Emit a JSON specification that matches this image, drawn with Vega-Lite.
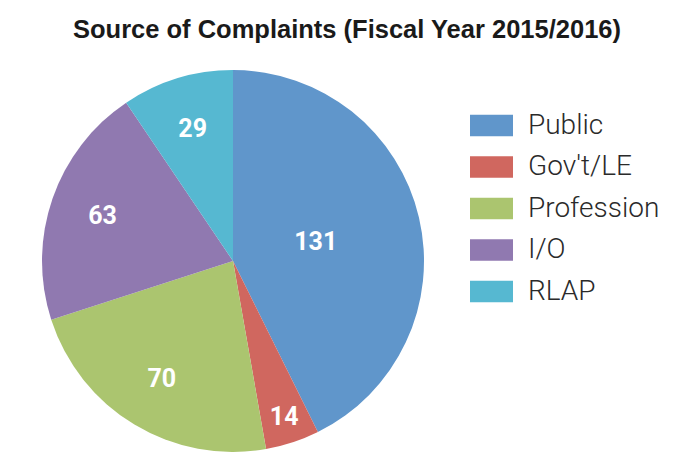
{
  "$schema": "https://vega.github.io/schema/vega-lite/v6.json",
  "autosize": "none",
  "width": 382,
  "height": 382,
  "padding": {"left": 42, "top": 70, "right": 252, "bottom": 23},
  "background": "white",
  "config": {"view": {"stroke": null}},
  "title": {
    "text": "Source of Complaints (Fiscal Year 2015/2016)",
    "font": "Liberation Sans",
    "fontSize": 25.5,
    "fontWeight": "bold",
    "color": "#1a1a1a",
    "anchor": "middle",
    "dx": 114,
    "offset": 27
  },
  "data": {
    "values": [
      {"source": "Public", "value": 131, "idx": 1},
      {"source": "Gov't/LE", "value": 14, "idx": 2},
      {"source": "Profession", "value": 70, "idx": 3},
      {"source": "I/O", "value": 63, "idx": 4},
      {"source": "RLAP", "value": 29, "idx": 5}
    ]
  },
  "encoding": {
    "theta": {"field": "value", "type": "quantitative", "stack": true},
    "order": {"field": "idx", "type": "quantitative"},
    "color": {
      "field": "source",
      "type": "nominal",
      "scale": {
        "domain": ["Public", "Gov't/LE", "Profession", "I/O", "RLAP"],
        "range": ["#6096CB", "#D0675F", "#ABC56F", "#9079B0", "#56B8D1"]
      },
      "legend": {
        "title": null,
        "orient": "none",
        "legendX": 428,
        "legendY": 34,
        "symbolType": "M-1,-0.5H1V0.5H-1Z",
        "symbolSize": 1849,
        "symbolStrokeWidth": 0,
        "symbolOpacity": 1,
        "labelFont": "Roboto",
        "labelFontWeight": 300,
        "labelFontSize": 28,
        "labelColor": "#2a2a2a",
        "labelOffset": 15,
        "rowPadding": 5.5
      }
    }
  },
  "layer": [
    {"mark": {"type": "arc", "stroke": null}},
    {
      "mark": {"type": "text", "radius": 85, "font": "Roboto", "fontWeight": "bold", "fontSize": 25},
      "encoding": {
        "text": {"condition": {"test": "datum.source === 'Public'", "field": "value", "type": "quantitative"}, "value": ""},
        "color": {"value": "white"}
      }
    },
    {
      "mark": {"type": "text", "radius": 164, "font": "Roboto", "fontWeight": "bold", "fontSize": 25},
      "encoding": {
        "text": {"condition": {"test": "datum.source === \"Gov't/LE\"", "field": "value", "type": "quantitative"}, "value": ""},
        "color": {"value": "white"}
      }
    },
    {
      "mark": {"type": "text", "radius": 138, "font": "Roboto", "fontWeight": "bold", "fontSize": 25},
      "encoding": {
        "text": {"condition": {"test": "datum.source === 'Profession' || datum.source === 'I/O' || datum.source === 'RLAP'", "field": "value", "type": "quantitative"}, "value": ""},
        "color": {"value": "white"}
      }
    }
  ]
}
